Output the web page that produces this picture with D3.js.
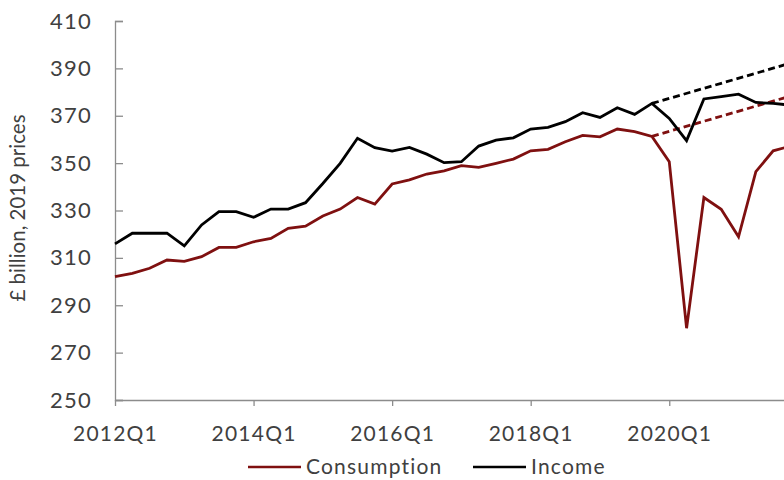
<html>
<head>
<meta charset="utf-8">
<script src="https://cdn.jsdelivr.net/npm/d3@7"></script>
<style>
  body { margin: 0px; background: #fff; }
  svg text { font-family: Lato, sans-serif; fill: #404040; }
  .axis path, .axis line { stroke: #8c8c8c; stroke-width: 1.3px; }
  .axis text, .legend text { letter-spacing: 1.2px; }
</style>
</head>
<body>
<script>

var w = 784, h = 480;

// quarters 2012Q1 .. 2021Q4
var quarters = [];
for (var y = 2012; y <= 2021; y++) {
    for (var q = 1; q <= 4; q++) quarters.push(y + "Q" + q);
}

var consumption = [302.1, 303.5, 305.6, 309.1, 308.5, 310.5, 314.4, 314.4, 316.8, 318.2,
                   322.5, 323.4, 327.7, 330.6, 335.5, 332.7, 341.2, 342.9, 345.4, 346.7,
                   348.9, 348.2, 349.9, 351.7, 355.2, 355.8, 359.0, 361.7, 361.1, 364.4,
                   363.3, 361.3, 350.6, 280.3, 335.5, 330.5, 318.9, 346.4, 355.2, 357.2];

var income = [315.9, 320.4, 320.4, 320.4, 315.1, 323.9, 329.5, 329.5, 327.1, 330.6,
              330.6, 333.3, 341.4, 349.9, 360.5, 356.5, 355.1, 356.6, 353.8, 350.2,
              350.6, 357.2, 359.7, 360.7, 364.4, 365.1, 367.5, 371.3, 369.3, 373.4,
              370.6, 375.2, 368.9, 359.5, 377.1, 378.1, 379.1, 375.6, 375.2, 374.5];

// pre-pandemic trend lines: from 2019Q4 to 2021Q4
var trendQuarters = ["2019Q4", "2021Q4"];
var consumptionTrend = [361.3, 378.3];
var incomeTrend = [375.2, 392.2];

var tickLabels = ["2012Q1", "2014Q1", "2016Q1", "2018Q1", "2020Q1"];
var yTicks = [250, 270, 290, 310, 330, 350, 370, 390, 410];

var red = "#7f1010";

var svg = d3.select("body").append("svg")
    .attr("width", w)
    .attr("height", h);

var x = d3.scalePoint()
    .domain(quarters)
    .range([115, 790.5]);

var yScale = d3.scaleLinear()
    .domain([250, 410])
    .range([400, 21]);

/* axes */
svg.append("g")
    .attr("class", "axis")
    .attr("transform", "translate(0,400)")
    .call(d3.axisBottom(x).tickValues(tickLabels).tickSize(6).tickSizeOuter(0).tickPadding(20))
    .selectAll("text")
    .style("font-size", "21px");

svg.append("g")
    .attr("class", "axis")
    .attr("transform", "translate(115,0)")
    .call(d3.axisLeft(yScale).tickValues(yTicks).tickSize(-8).tickSizeOuter(-8).tickPadding(23))
    .selectAll("text")
    .style("font-size", "22px");

svg.append("text")
    .attr("transform", "translate(25,208) rotate(-90)")
    .attr("text-anchor", "middle")
    .style("font-size", "20.5px")
    .text("£ billion, 2019 prices");

/* lines */
var line = d3.line()
    .x(function(d) { return x(d.q); })
    .y(function(d) { return yScale(d.v); });

function pairs(qs, vs) {
    return qs.map(function(q, i) { return {q: q, v: vs[i]}; });
}

svg.append("path")
    .datum(pairs(trendQuarters, consumptionTrend))
    .attr("d", line)
    .attr("fill", "none")
    .attr("stroke", red)
    .attr("stroke-width", 2.8)
    .attr("stroke-dasharray", "7,4");

svg.append("path")
    .datum(pairs(trendQuarters, incomeTrend))
    .attr("d", line)
    .attr("fill", "none")
    .attr("stroke", "#000")
    .attr("stroke-width", 2.8)
    .attr("stroke-dasharray", "7,4");

svg.append("path")
    .datum(pairs(quarters, consumption))
    .attr("d", line)
    .attr("fill", "none")
    .attr("stroke", red)
    .attr("stroke-width", 2.8);

svg.append("path")
    .datum(pairs(quarters, income))
    .attr("d", line)
    .attr("fill", "none")
    .attr("stroke", "#000")
    .attr("stroke-width", 2.8);

/* legend */
var legend = [
    {label: "Consumption", color: red, x: 248},
    {label: "Income", color: "#000", x: 473}
];

var lg = svg.selectAll(".legend")
    .data(legend)
    .enter().append("g")
    .attr("class", "legend")
    .attr("transform", function(d) { return "translate(" + d.x + ",467)"; });

lg.append("line")
    .attr("x1", 0).attr("x2", 53)
    .attr("stroke", function(d) { return d.color; })
    .attr("stroke-width", 2.6);

lg.append("text")
    .attr("x", 58)
    .attr("dy", "0.35em")
    .style("font-size", "21px")
    .text(function(d) { return d.label; });

</script>
</body>
</html>
